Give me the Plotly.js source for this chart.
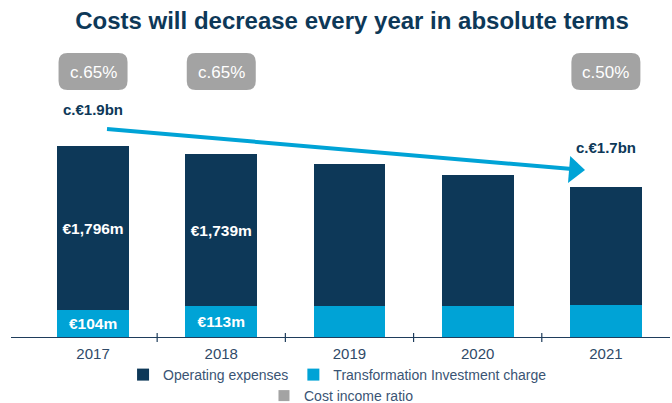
<!DOCTYPE html>
<html>
<head>
<meta charset="utf-8">
<script src="https://cdn.plot.ly/plotly-3.0.1.min.js"></script>
<style>html,body{margin:0;padding:0;background:#fff;}#chart{width:672px;height:403px;}</style>
</head>
<body>
<div id="chart"></div>
<script>
// ---- data (bar heights estimated from the drawn picture; labels as printed) ----
const years = ['2017', '2018', '2019', '2020', '2021'];
const opexDrawn = [1640, 1520, 1420, 1310, 1180];
const chargeDrawn = [270, 310, 310, 310, 320];
const opexLabels = ['€1,796m', '€1,739m', '', '', ''];
const chargeLabels = ['€104m', '€113m', '', '', ''];
const ratioLabels = ['c.65%', 'c.65%', '', '', 'c.50%'];
const totalLabels = ['c.€1.9bn', '', '', '', 'c.€1.7bn'];
const seriesNames = ['Operating expenses', 'Transformation Investment charge', 'Cost income ratio'];

// ---- styling ----
const NAVY = '#0d3858';
const LIGHT = '#00a3d6';
const GREY = '#a3a3a3';
const FONT = '"Liberation Sans", Arial, sans-serif';

const W = 672, H = 403;
const M = {l: 11, r: 2, t: 40, b: 66, autoexpand: false};
const XR = [-0.64, 4.5];
const plotW = W - M.l - M.r, plotH = H - M.t - M.b;
const YMAX = plotH * 10;
function xd(px) { return XR[0] + (px - M.l) * (XR[1] - XR[0]) / plotW; }
function yd(py) { return (H - M.b - py) * YMAX / plotH; }
function xpx(i) { return M.l + (i - XR[0]) * plotW / (XR[1] - XR[0]); }

function rrect(cx, cy, w, h, r) {
  const x0 = cx - w / 2, x1 = cx + w / 2, y0 = cy - h / 2, y1 = cy + h / 2;
  const P = (x, y) => xd(x) + ',' + yd(y);
  return 'M' + P(x0 + r, y0) + ' L' + P(x1 - r, y0) + ' Q' + P(x1, y0) + ' ' + P(x1, y0 + r) +
    ' L' + P(x1, y1 - r) + ' Q' + P(x1, y1) + ' ' + P(x1 - r, y1) +
    ' L' + P(x0 + r, y1) + ' Q' + P(x0, y1) + ' ' + P(x0, y1 - r) +
    ' L' + P(x0, y0 + r) + ' Q' + P(x0, y0) + ' ' + P(x0 + r, y0) + ' Z';
}

const traces = [
  {
    type: 'bar', name: seriesNames[1], x: years, y: chargeDrawn,
    marker: {color: LIGHT}, text: chargeLabels, textposition: 'inside',
    insidetextanchor: 'middle', textangle: 0,
    textfont: {color: '#ffffff', size: 15.5, family: FONT, weight: 'bold'},
    hoverinfo: 'none', legendrank: 2
  },
  {
    type: 'bar', name: seriesNames[0], x: years, y: opexDrawn,
    marker: {color: NAVY}, text: opexLabels, textposition: 'inside',
    insidetextanchor: 'middle', textangle: 0,
    textfont: {color: '#ffffff', size: 15.5, family: FONT, weight: 'bold'},
    hoverinfo: 'none', legendrank: 1
  },
  {
    type: 'scatter', mode: 'markers', name: seriesNames[2], x: [null], y: [null],
    marker: {color: GREY, symbol: 'square', size: 11}, legend: 'legend2', hoverinfo: 'none'
  }
];

const shapes = [];
const annotations = [];
// category boundary tick marks
for (let i = 0; i < years.length - 1; i++) {
  shapes.push({type: 'line', xref: 'x', yref: 'paper', x0: i + 0.5, x1: i + 0.5,
    y0: -5 / plotH, y1: 4 / plotH, line: {color: '#1f3d5c', width: 1.2}});
}
// cost income ratio boxes
ratioLabels.forEach((t, i) => {
  if (!t) return;
  const cx = xpx(i);
  shapes.push({type: 'path', xref: 'x', yref: 'y', path: rrect(cx, 71.5, 69, 37, 9),
    fillcolor: GREY, line: {width: 0}, layer: 'above'});
  annotations.push({x: i, y: yd(72), xref: 'x', yref: 'y', text: t, showarrow: false,
    font: {color: '#ffffff', size: 17, family: FONT}, xanchor: 'center', yanchor: 'middle'});
});
// total labels
const totalPy = [109, 0, 0, 0, 147];
totalLabels.forEach((t, i) => {
  if (!t) return;
  annotations.push({x: i, y: yd(totalPy[i]), xref: 'x', yref: 'y', text: t, showarrow: false,
    font: {color: NAVY, size: 15, family: FONT, weight: 'bold'}, xanchor: 'center', yanchor: 'middle'});
});
// trend arrow
shapes.push({type: 'line', xref: 'x', yref: 'y', x0: xd(107), y0: yd(129), x1: xd(572), y1: yd(169),
  line: {color: LIGHT, width: 4}, layer: 'above'});
shapes.push({type: 'path', xref: 'x', yref: 'y',
  path: 'M' + xd(585) + ',' + yd(170) + ' L' + xd(568) + ',' + yd(183) + ' L' + xd(570.2) + ',' + yd(156) + ' Z',
  fillcolor: LIGHT, line: {width: 0}, layer: 'above'});

const layout = {
  width: W, height: H, margin: M,
  paper_bgcolor: '#ffffff', plot_bgcolor: '#ffffff',
  font: {family: FONT, color: '#2f4a68'},
  barmode: 'stack', bargap: 0.44,
  title: {text: '<b>Costs will decrease every year in absolute terms</b>',
    font: {family: FONT, size: 24, color: NAVY}, automargin: false,
    x: 352 / W, xanchor: 'center', y: 1 - 20.5 / H, yanchor: 'middle'},
  xaxis: {type: 'category', range: XR, showline: true, linecolor: '#1f3d5c', linewidth: 1.2,
    ticks: '', showgrid: false, zeroline: false, fixedrange: true, automargin: false,
    tickfont: {size: 15, color: '#2f4a68', family: FONT}, ticklabelstandoff: 3},
  yaxis: {range: [0, YMAX], visible: false, showgrid: false, zeroline: false, fixedrange: true},
  showlegend: true,
  legend: {orientation: 'h', x: 0.5 - 3 / W, xanchor: 'center', y: (337 - 375) / plotH, yanchor: 'middle',
    font: {size: 14, color: '#3a5474', family: FONT}, traceorder: 'normal', itemwidth: 30,
    bgcolor: 'rgba(0,0,0,0)'},
  legend2: {orientation: 'h', x: 0.5 + 1 / W, xanchor: 'center', y: (337 - 396) / plotH, yanchor: 'middle',
    font: {size: 14, color: '#3a5474', family: FONT}, itemwidth: 30, bgcolor: 'rgba(0,0,0,0)'},
  shapes: shapes,
  annotations: annotations
};

Plotly.newPlot('chart', traces, layout, {displayModeBar: false, staticPlot: true});
</script>
</body>
</html>
